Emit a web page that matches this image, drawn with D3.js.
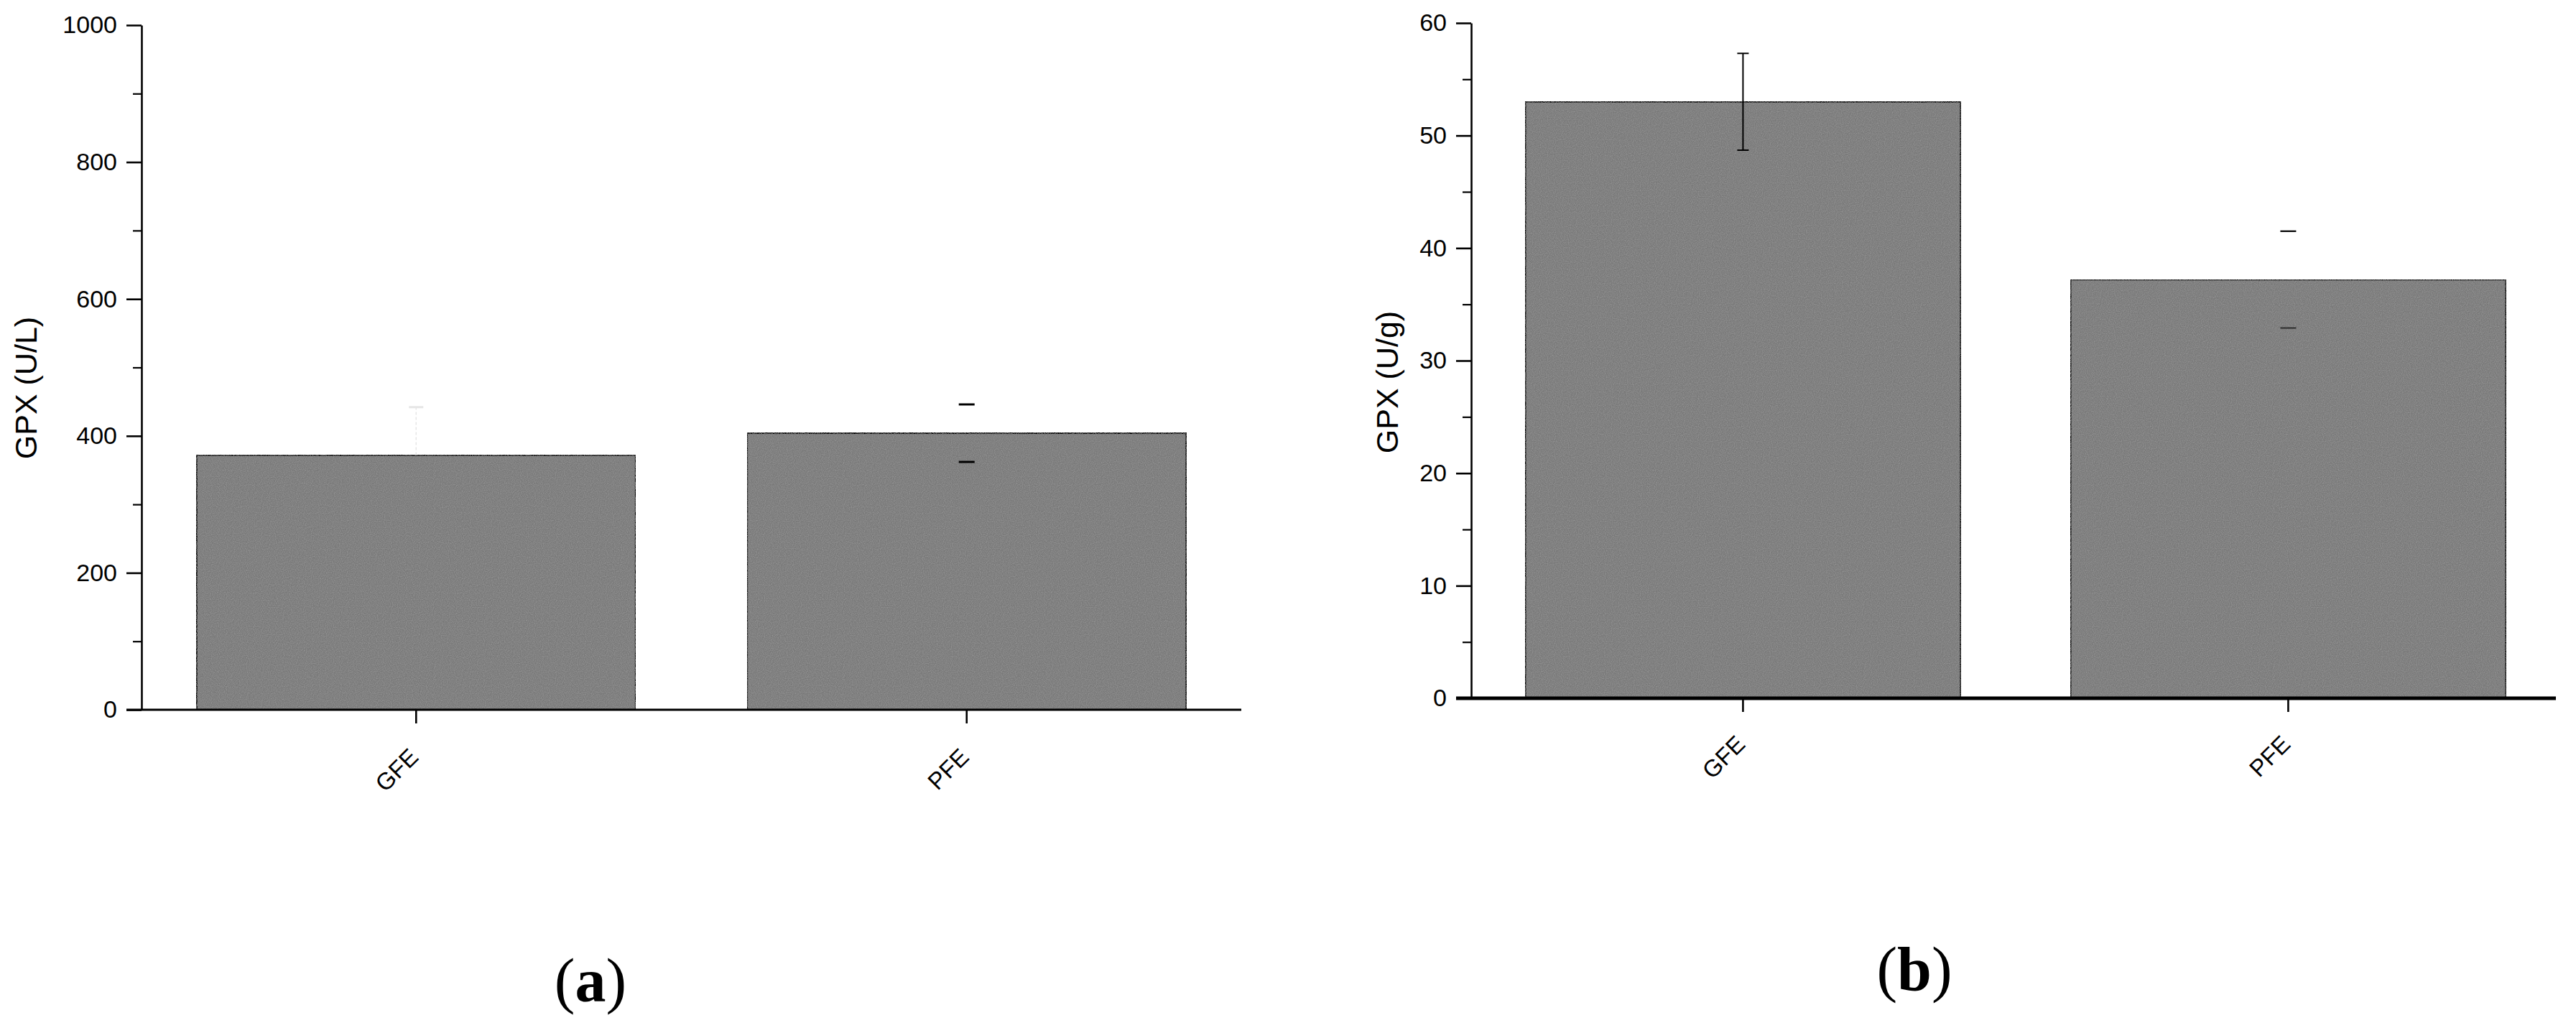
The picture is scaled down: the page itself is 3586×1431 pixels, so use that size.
<!DOCTYPE html>
<html>
<head>
<meta charset="utf-8">
<script src="https://cdn.jsdelivr.net/npm/d3@7"></script>
<style>
  html, body { margin: 0; padding: 0; background: #ffffff; }
  svg { display: block; }
</style>
</head>
<body>
<svg id="chart" width="3586" height="1431"></svg>
<script>
// ---- data ----
const categories = ["GFE", "PFE"];
const serumValues = [372, 404];      // GPX (U/L), panel a
const serumErrors = [70, 42];
const tissueValues = [53.0, 37.2];   // GPX (U/g), panel b
const tissueErrors = [4.3, 4.3];
const serumMajorTicks = [0, 200, 400, 600, 800, 1000];
const serumMinorTicks = [100, 300, 500, 700, 900];
const tissueMajorTicks = [0, 10, 20, 30, 40, 50, 60];
const tissueMinorTicks = [5, 15, 25, 35, 45, 55];
const panelLabels = ["a", "b"];
const yTitles = ["GPX (U/L)", "GPX (U/g)"];

const SANS = "'Liberation Sans', Arial, sans-serif";
const SERIF = "'Liberation Serif', 'Times New Roman', serif";

const svg = d3.select("#chart");

const defs = svg.append("defs");
const f = defs.append("filter").attr("id", "grain").attr("x", 0).attr("y", 0).attr("width", 1).attr("height", 1);
f.append("feTurbulence").attr("type", "fractalNoise").attr("baseFrequency", 0.9).attr("numOctaves", 1).attr("seed", 3).attr("result", "n");
f.append("feColorMatrix").attr("in", "n").attr("type", "matrix")
  .attr("values", "0 0 0 0 0.45  0 0 0 0 0.45  0 0 0 0 0.45  0.9 0 0 0 -0.35").attr("result", "nc");
f.append("feComposite").attr("in", "nc").attr("in2", "SourceGraphic").attr("operator", "in").attr("result", "nm");
f.append("feMerge").call(m => { m.append("feMergeNode").attr("in", "SourceGraphic"); m.append("feMergeNode").attr("in", "nm"); });

function panel(cfg) {
  const g = svg.append("g");
  const x = d3.scaleBand().domain(categories).range(cfg.xRange)
    .paddingInner(cfg.padIn).paddingOuter(cfg.padOut).align(cfg.align);
  const y = d3.scaleLinear().domain(cfg.yDomain).range(cfg.yRange);
  const x0 = cfg.xRange[0];

  // bars
  g.selectAll("rect.bar").data(cfg.values).join("rect")
    .attr("class", "bar")
    .attr("x", (d, i) => x(categories[i]))
    .attr("y", d => y(d))
    .attr("width", x.bandwidth())
    .attr("height", d => y(0) - y(d))
    .attr("fill", "#7a7a7a")
    .attr("filter", "url(#grain)")
    .attr("stroke", "#000")
    .attr("stroke-width", 2.2);

  // error bars
  cfg.values.forEach((v, i) => {
    const cx = x(categories[i]) + x.bandwidth() / 2;
    const e = cfg.errors[i];
    const st = cfg.errStyle[i];
    if (st.line) {
      g.append("line").attr("x1", cx).attr("x2", cx)
        .attr("y1", y(st.lineFromTop ? v : v - e)).attr("y2", y(v + e))
        .attr("stroke", st.lineColor).attr("stroke-width", st.lineWidth)
        .attr("stroke-dasharray", st.dash || null);
    }
    [v + e, v - e].forEach((yy, k) => {
      const col = k === 0 ? st.capTop : st.capBottom;
      if (!col) return;
      g.append("line").attr("x1", cx - st.capW / 2).attr("x2", cx + st.capW / 2)
        .attr("y1", y(yy)).attr("y2", y(yy))
        .attr("stroke", col).attr("stroke-width", st.capWidth);
    });
  });

  // y axis: minor ticks
  g.append("g").attr("transform", `translate(${x0},0)`)
    .call(d3.axisLeft(y).tickValues(cfg.minor).tickSize(12).tickSizeOuter(0).tickFormat(""))
    .call(a => a.select(".domain").remove())
    .call(a => a.selectAll("line").attr("stroke", "#000").attr("stroke-width", 2.2));
  // y axis: major ticks
  g.append("g").attr("transform", `translate(${x0},0)`)
    .call(d3.axisLeft(y).tickValues(cfg.major).tickSize(21).tickSizeOuter(0).tickPadding(13).tickFormat(d3.format("d")))
    .call(a => a.select(".domain").attr("stroke", "#000").attr("stroke-width", 2.6))
    .call(a => a.selectAll("line").attr("stroke", "#000").attr("stroke-width", 2.6))
    .call(a => a.selectAll("text").attr("font-size", 34).style("font-family", SANS).attr("fill", "#000"));

  // x axis
  g.append("g").attr("transform", `translate(0,${y(0)})`)
    .call(d3.axisBottom(x).tickSize(cfg.xTickLen).tickSizeOuter(0).tickFormat(""))
    .call(a => a.select(".domain").remove())
    .call(a => a.selectAll("line").attr("stroke", "#000").attr("stroke-width", 2.6));
  g.append("line")
    .attr("x1", x0 - 21).attr("x2", cfg.xRange[1])
    .attr("y1", y(0)).attr("y2", y(0))
    .attr("stroke", "#000").attr("stroke-width", cfg.xAxisWidth);

  // category labels
  categories.forEach(c => {
    const tx = x(c) + x.bandwidth() / 2 + 5;
    const ty = y(0) + cfg.labelDrop;
    g.append("text").attr("transform", `translate(${tx},${ty}) rotate(-45)`)
      .attr("text-anchor", "end").attr("font-size", 33).style("font-family", SANS).attr("fill", "#000").text(c);
  });

  // y title
  g.append("text")
    .attr("transform", `translate(${cfg.titleX},${cfg.titleY}) rotate(-90)`)
    .attr("text-anchor", "middle").attr("font-size", 43).style("font-family", SANS).attr("fill", "#000").text(cfg.title);

  // panel caption
  const cap = g.append("text").attr("x", cfg.capX).attr("y", cfg.capY)
    .attr("text-anchor", "middle").attr("font-size", 86)
    .style("font-family", SERIF).attr("fill", "#000");
  cap.append("tspan").text("(");
  cap.append("tspan").attr("font-weight", "bold").text(cfg.caption);
  cap.append("tspan").text(")");
}

panel({
  values: serumValues, errors: serumErrors,
  xRange: [197, 1728], padIn: 0.2024, padOut: 0.1, align: 0.5,
  yDomain: [0, 1000], yRange: [988, 35],
  major: serumMajorTicks, minor: serumMinorTicks,
  xTickLen: 19, xAxisWidth: 3.2, labelDrop: 68,
  title: yTitles[0], titleX: 51, titleY: 540,
  caption: panelLabels[0], capX: 822, capY: 1394,
  errStyle: [
    { line: true, lineFromTop: true, lineColor: "#e6e6e6", lineWidth: 1.5, dash: "4,3",
      capTop: "#e6e6e6", capBottom: null, capW: 20, capWidth: 3 },
    { line: false, capTop: "#000", capBottom: "#000", capW: 22, capWidth: 3 }
  ]
});

panel({
  values: tissueValues, errors: tissueErrors,
  xRange: [2048, 3558], padIn: 0.2016, padOut: 0.0955, align: 0.52,
  yDomain: [0, 60], yRange: [972, 32],
  major: tissueMajorTicks, minor: tissueMinorTicks,
  xTickLen: 19, xAxisWidth: 5, labelDrop: 66,
  title: yTitles[1], titleX: 1946, titleY: 532,
  caption: panelLabels[1], capX: 2665, capY: 1378,
  errStyle: [
    { line: true, lineFromTop: false, lineColor: "#000", lineWidth: 2, capTop: "#000", capBottom: "#000", capW: 16, capWidth: 2 },
    { line: false, capTop: "#000", capBottom: "#333", capW: 22, capWidth: 2.2 }
  ]
});
</script>
</body>
</html>
